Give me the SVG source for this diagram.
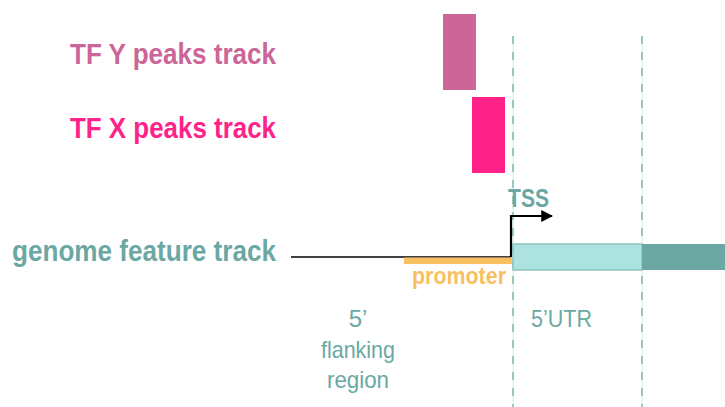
<svg xmlns="http://www.w3.org/2000/svg" width="725" height="407" viewBox="0 0 725 407">
<style>
.lbl{font-family:"Liberation Sans",Arial,sans-serif;font-weight:bold;}
.reg{font-family:"Liberation Sans",Arial,sans-serif;fill:#6BA8A3;}
.guide{stroke:#D6EAE8;stroke-width:1;}
.dash{stroke:#7FB8B2;stroke-width:1.5;stroke-dasharray:8 8;}
</style>
<defs>
<marker id="arr" viewBox="0 0 10 10" refX="9" refY="5" markerWidth="12" markerHeight="12" orient="auto" markerUnits="userSpaceOnUse">
<path d="M0,0 L10,5 L0,10 z" fill="#000"/>
</marker>
</defs>
<g id="guides">
<line class="guide" x1="513" y1="36" x2="513" y2="407"/>
<line class="dash" x1="513" y1="36" x2="513" y2="407"/>
<line class="guide" x1="642" y1="36" x2="642" y2="407"/>
<line class="dash" x1="642" y1="36" x2="642" y2="407"/>
</g>
<g id="label-tfy"><text class="lbl" x="276" y="64" text-anchor="end" font-size="30" fill="#CC6699" textLength="206" lengthAdjust="spacingAndGlyphs">TF Y peaks track</text></g>
<g id="label-tfx"><text class="lbl" x="276" y="138" text-anchor="end" font-size="30" fill="#FF2288" textLength="206" lengthAdjust="spacingAndGlyphs">TF X peaks track</text></g>
<g id="label-genome"><text class="lbl" x="276" y="261" text-anchor="end" font-size="30" fill="#6BA8A3" textLength="264" lengthAdjust="spacingAndGlyphs">genome feature track</text></g>
<g id="peak-y"><rect x="443" y="14" width="33" height="76" fill="#CC6699"/></g>
<g id="peak-x"><rect x="472" y="97" width="33" height="76" fill="#FF2288"/></g>
<g id="connectors">
<line x1="291" y1="257" x2="511" y2="257" stroke="#000" stroke-width="1.3"/>
<path d="M511,257 V216 H552" fill="none" stroke="#000" stroke-width="2.2" marker-end="url(#arr)"/>
</g>
<g id="promoter">
<rect x="404" y="257.5" width="108" height="6.5" fill="#F9C062"/>
<text class="lbl" x="459" y="284" text-anchor="middle" font-size="23" fill="#F9C062" textLength="94" lengthAdjust="spacingAndGlyphs">promoter</text>
</g>
<g id="tss"><text class="lbl" x="528.5" y="207" text-anchor="middle" font-size="25" fill="#6BA8A3" textLength="41" lengthAdjust="spacingAndGlyphs">TSS</text></g>
<g id="utr"><rect x="513" y="244" width="129" height="26" fill="#ACE3E0" stroke="#8CC4BF" stroke-width="1.5"/></g>
<g id="cds"><rect x="642" y="244" width="84" height="26" fill="#6BA8A3"/></g>
<g id="flank-label">
<text class="reg" x="358" y="327" text-anchor="middle" font-size="24">5’</text>
<text class="reg" x="358" y="358" text-anchor="middle" font-size="24" textLength="74" lengthAdjust="spacingAndGlyphs">flanking</text>
<text class="reg" x="358" y="388" text-anchor="middle" font-size="24" textLength="62" lengthAdjust="spacingAndGlyphs">region</text>
</g>
<g id="utr-label"><text class="reg" x="531" y="327" font-size="24" textLength="61" lengthAdjust="spacingAndGlyphs">5’UTR</text></g>
</svg>
